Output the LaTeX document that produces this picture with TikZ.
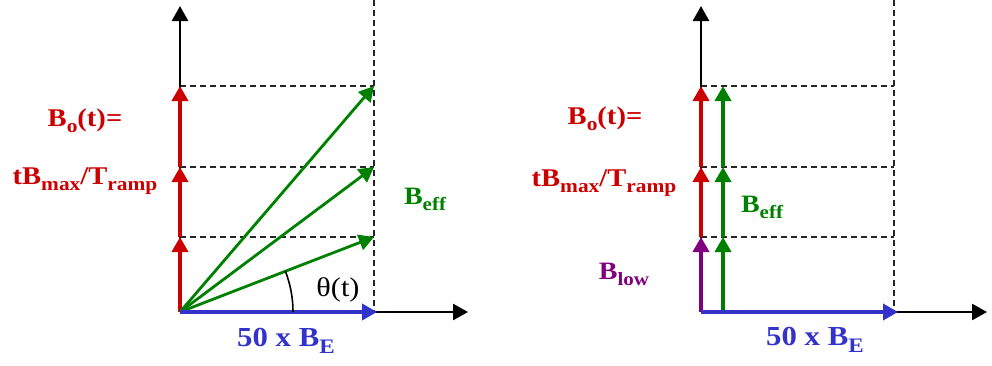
\documentclass[tikz,border=0pt]{standalone}
\usepackage{fontspec}
\usepackage{graphicx}
\setmainfont[FakeStretch=1.12]{Liberation Serif}
\usetikzlibrary{arrows.meta}
\definecolor{cred}{RGB}{204,0,0}
\definecolor{cgreen}{RGB}{0,128,0}
\definecolor{cblue}{RGB}{51,51,204}
\definecolor{cpurple}{RGB}{128,0,128}
\newcommand{\lowsub}[1]{\raisebox{-0.27em}{\scalebox{0.75}{#1}}}
\tikzset{
  tip/.style={-{Triangle[length=15pt,width=16pt]}},
  axis/.style={tip, line width=2.6pt, black},
  vec/.style={tip, line width=3.6pt},
  diag/.style={tip, line width=2.8pt, cgreen},
  guide/.style={line width=1.3pt, black!85, dash pattern=on 6pt off 4pt},
  lab/.style={inner sep=0pt, anchor=base},
  fA/.style={font=\bfseries\fontsize{25.5}{28}\selectfont},
  fB/.style={font=\bfseries\fontsize{25.5}{28}\selectfont},
  fC/.style={font=\bfseries\fontsize{25}{28}\selectfont},
  fD/.style={font=\bfseries\fontsize{25}{28}\selectfont},
  fE/.style={font=\bfseries\fontsize{27.5}{30}\selectfont},
}
\begin{document}
\begin{tikzpicture}[x=1pt,y=-1pt]
\useasboundingbox (0,0) rectangle (992,365);
% ---------- left diagram ----------
\coordinate (O1) at (180,312);
\coordinate (Y1) at (180,6);
\coordinate (X1) at (468,312);
\coordinate (E1) at (377,312);
\coordinate (a1) at (180,237);
\coordinate (b1) at (180,167);
\coordinate (c1) at (180,86);
\coordinate (a1r) at (374,237);
\coordinate (b1r) at (374,167);
\coordinate (c1r) at (374,86);
\coordinate (t1) at (374,0);
\coordinate (d1) at (374,312);
\draw[guide] (a1) -- (a1r);
\draw[guide] (b1) -- (b1r);
\draw[guide] (c1) -- (c1r);
\draw[guide] (t1) -- (d1);
\draw[axis] (O1) -- (Y1);
\draw[axis] (O1) -- (X1);
\draw[vec, cred] (O1) -- (a1);
\draw[vec, cred] (a1) -- (b1);
\draw[vec, cred] (b1) -- (c1);
\draw[diag] (O1) -- (a1r);
\draw[diag] (O1) -- (b1r);
\draw[diag] (O1) -- (c1r);
\draw[vec, cblue] (O1) -- (E1);
\draw[line width=1.6pt] ([shift={(0:113)}]O1) arc[start angle=0, end angle=-21.2, radius=113];
\node[lab, font=\fontsize{27}{30}\selectfont] (th1) at (338,296) {θ(t)};
\node[lab, fA, cred] (bo1) at (85,126) {B\lowsub{o}(t)=};
\node[lab, fB, cred] (tb1) at (85,184) {tB\lowsub{max}/T\lowsub{ramp}};
\node[lab, fC, cgreen] (be1) at (425,204) {B\lowsub{eff}};
\node[lab, fE, cblue] (bE1) at (286,346) {50 x B\lowsub{E}};
% ---------- right diagram ----------
\coordinate (O2) at (701,312);
\coordinate (Y2) at (701,6);
\coordinate (X2) at (987,312);
\coordinate (E2) at (898,312);
\coordinate (a2) at (701,237);
\coordinate (b2) at (701,167);
\coordinate (c2) at (701,86);
\coordinate (g0) at (723,312);
\coordinate (ga) at (723,237);
\coordinate (gb) at (723,167);
\coordinate (gc) at (723,86);
\coordinate (a2r) at (894,237);
\coordinate (b2r) at (894,167);
\coordinate (c2r) at (894,86);
\coordinate (t2) at (894,0);
\coordinate (d2) at (894,312);
\draw[guide] (a2) -- (a2r);
\draw[guide] (b2) -- (b2r);
\draw[guide] (c2) -- (c2r);
\draw[guide] (t2) -- (d2);
\draw[axis] (O2) -- (Y2);
\draw[axis] (O2) -- (X2);
\draw[vec, cpurple] (O2) -- (a2);
\draw[vec, cred] (a2) -- (b2);
\draw[vec, cred] (b2) -- (c2);
\draw[vec, cgreen] (g0) -- (ga);
\draw[vec, cgreen] (ga) -- (gb);
\draw[vec, cgreen] (gb) -- (gc);
\draw[vec, cblue] (O2) -- (E2);
\node[lab, fA, cred] (bo2) at (605,124) {B\lowsub{o}(t)=};
\node[lab, fB, cred] (tb2) at (604,186) {tB\lowsub{max}/T\lowsub{ramp}};
\node[lab, fC, cgreen] (be2) at (762,212) {B\lowsub{eff}};
\node[lab, fD, cpurple] (bl2) at (624,279) {B\lowsub{low}};
\node[lab, fE, cblue] (bE2) at (815,345) {50 x B\lowsub{E}};
\end{tikzpicture}
\end{document}
